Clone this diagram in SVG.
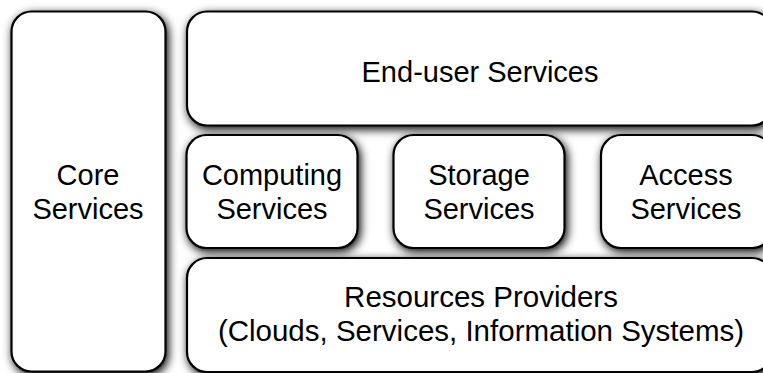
<svg xmlns="http://www.w3.org/2000/svg" width="763" height="373" viewBox="0 0 763 373">
<defs>
<filter id="sh" x="-20%" y="-20%" width="140%" height="140%">
<feGaussianBlur in="SourceAlpha" stdDeviation="5"/>
<feOffset dx="2" dy="3" result="b"/>
<feComponentTransfer><feFuncA type="linear" slope="1"/></feComponentTransfer>
<feMerge><feMergeNode/><feMergeNode in="SourceGraphic"/></feMerge>
</filter>
</defs>
<style>
.box{fill:#fff;stroke:#000;stroke-width:2.2;filter:url(#sh)}
.t{font-family:"Liberation Sans",Arial,sans-serif;font-size:29px;fill:#000;text-anchor:middle}
</style>
<rect width="763" height="373" fill="#fff"/>
<g id="connectors"></g>
<g id="core"><rect class="box" x="11.5" y="11.5" width="154" height="360" rx="20"/>
<text class="t" x="88" y="185">Core</text><text class="t" x="88" y="219">Services</text></g>
<g id="enduser"><rect class="box" x="187" y="11.5" width="585" height="114" rx="20"/>
<text class="t" x="480" y="82">End-user Services</text></g>
<g id="computing"><rect class="box" x="186.5" y="135" width="171" height="113" rx="20"/>
<text class="t" x="272" y="185">Computing</text><text class="t" x="272" y="219">Services</text></g>
<g id="storage"><rect class="box" x="393.5" y="135" width="171" height="113" rx="20"/>
<text class="t" x="479" y="185">Storage</text><text class="t" x="479" y="219">Services</text></g>
<g id="access"><rect class="box" x="601" y="135" width="171" height="113" rx="20"/>
<text class="t" x="686" y="185">Access</text><text class="t" x="686" y="219">Services</text></g>
<g id="resources"><rect class="box" x="187" y="258" width="585" height="114" rx="20"/>
<text class="t" x="481" y="307" style="font-size:29.5px">Resources Providers</text><text class="t" x="481" y="341" style="font-size:29.5px">(Clouds, Services, Information Systems)</text></g>
</svg>
